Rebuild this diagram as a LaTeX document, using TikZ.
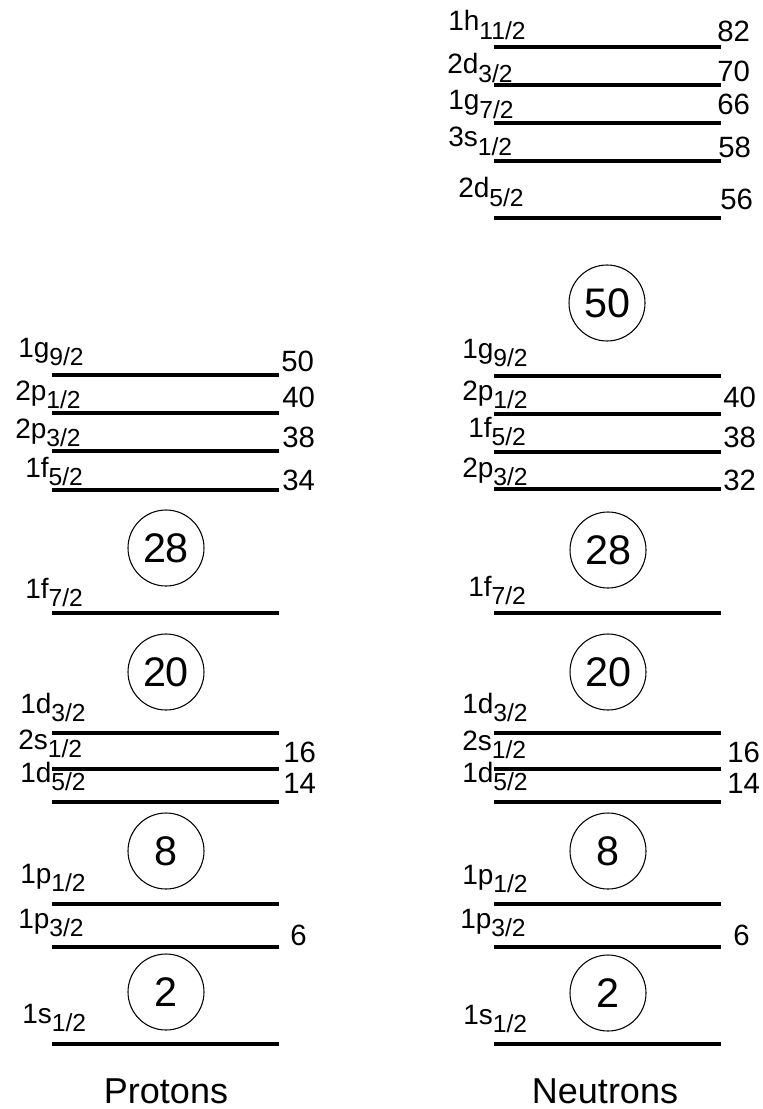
\documentclass[tikz,border=0pt]{standalone}
\usepackage{fontspec}
\setmainfont{Liberation Sans}
\newcommand{\shl}[2]{{\fontsize{21pt}{23pt}\selectfont #1}\raisebox{-6.5pt}{\fontsize{18.5pt}{20pt}\selectfont #2}}
\begin{document}
\begin{tikzpicture}[x=0.75pt,y=-0.75pt,
  lvl/.style={line width=2.5pt},
  lab/.style={anchor=base west, inner sep=0pt},
  num/.style={anchor=base west, inner sep=0pt, font=\fontsize{22pt}{24pt}\selectfont},
  magic/.style={circle, draw, line width=0.8pt, minimum size=57pt, inner sep=0pt, font=\fontsize{31pt}{32pt}\selectfont},
  ttl/.style={anchor=base, inner sep=0pt, font=\fontsize{27pt}{29pt}\selectfont}]
\useasboundingbox (0,0) rectangle (763,1109);

% ---------- Protons ----------
\foreach \y in {375,413,451,490,613,733,769,802,904,947,1044}
  \draw[lvl] (52,\y) -- (279,\y);

\node[lab] (p1g92) at (18,357) {\shl{1g}{9/2}};
\node[lab] (p2p12) at (15,400) {\shl{2p}{1/2}};
\node[lab] (p2p32) at (15,438) {\shl{2p}{3/2}};
\node[lab] (p1f52) at (25,477) {\shl{1f}{5/2}};
\node[lab] (p1f72) at (25,598) {\shl{1f}{7/2}};
\node[lab] (p1d32) at (20,713) {\shl{1d}{3/2}};
\node[lab] (p2s12) at (18,749) {\shl{2s}{1/2}};
\node[lab] (p1d52) at (20,782) {\shl{1d}{5/2}};
\node[lab] (p1p12) at (20,883) {\shl{1p}{1/2}};
\node[lab] (p1p32) at (18,928) {\shl{1p}{3/2}};
\node[lab] (p1s12) at (22,1023) {\shl{1s}{1/2}};

\node[num] (pn50) at (281,371) {50};
\node[num] (pn40) at (282,407) {40};
\node[num] (pn38) at (282,447) {38};
\node[num] (pn34) at (282,490) {34};
\node[num] (pn16) at (283,762) {16};
\node[num] (pn14) at (283,793) {14};
\node[num] (pn6)  at (290,945) {6};

\node[magic] (pm28) at (166,548) {28};
\node[magic] (pm20) at (166,672) {20};
\node[magic] (pm8)  at (166,851) {8};
\node[magic] (pm2)  at (166,992) {2};

\node[ttl] (prot) at (166,1103) {Protons};

% ---------- Neutrons ----------
\foreach \y in {47,85,123,161,218,376,414,452,489,613,733,769,802,904,947,1044}
  \draw[lvl] (494,\y) -- (721,\y);

\node[lab] (n1h112) at (448,31) {\shl{1h}{11/2}};
\node[lab] (n2d32) at (447,74) {\shl{2d}{3/2}};
\node[lab] (n1g72) at (448,110) {\shl{1g}{7/2}};
\node[lab] (n3s12) at (448,147) {\shl{3s}{1/2}};
\node[lab] (n2d52) at (458,198) {\shl{2d}{5/2}};
\node[lab] (n1g92) at (462,358) {\shl{1g}{9/2}};
\node[lab] (n2p12) at (462,400) {\shl{2p}{1/2}};
\node[lab] (n1f52) at (468,437) {\shl{1f}{5/2}};
\node[lab] (n2p32) at (462,477) {\shl{2p}{3/2}};
\node[lab] (n1f72) at (468,596) {\shl{1f}{7/2}};
\node[lab] (n1d32) at (462,713) {\shl{1d}{3/2}};
\node[lab] (n2s12) at (462,750) {\shl{2s}{1/2}};
\node[lab] (n1d52) at (462,782) {\shl{1d}{5/2}};
\node[lab] (n1p12) at (462,884) {\shl{1p}{1/2}};
\node[lab] (n1p32) at (460,928) {\shl{1p}{3/2}};
\node[lab] (n1s12) at (463,1024) {\shl{1s}{1/2}};

\node[num] (nn82) at (717,42) {82};
\node[num] (nn70) at (717,82) {70};
\node[num] (nn66) at (717,115) {66};
\node[num] (nn58) at (718,158) {58};
\node[num] (nn56) at (720,210) {56};
\node[num] (nn40) at (723,407) {40};
\node[num] (nn38) at (723,447) {38};
\node[num] (nn32) at (723,490) {32};
\node[num] (nn16) at (727,762) {16};
\node[num] (nn14) at (727,793) {14};
\node[num] (nn6)  at (733,945) {6};

\node[magic] (nm50) at (607,303) {50};
\node[magic] (nm28) at (608,550) {28};
\node[magic] (nm20) at (608,672) {20};
\node[magic] (nm8)  at (608,851) {8};
\node[magic] (nm2)  at (608,993) {2};

\node[ttl] (neut) at (605,1103) {Neutrons};
\end{tikzpicture}
\end{document}
